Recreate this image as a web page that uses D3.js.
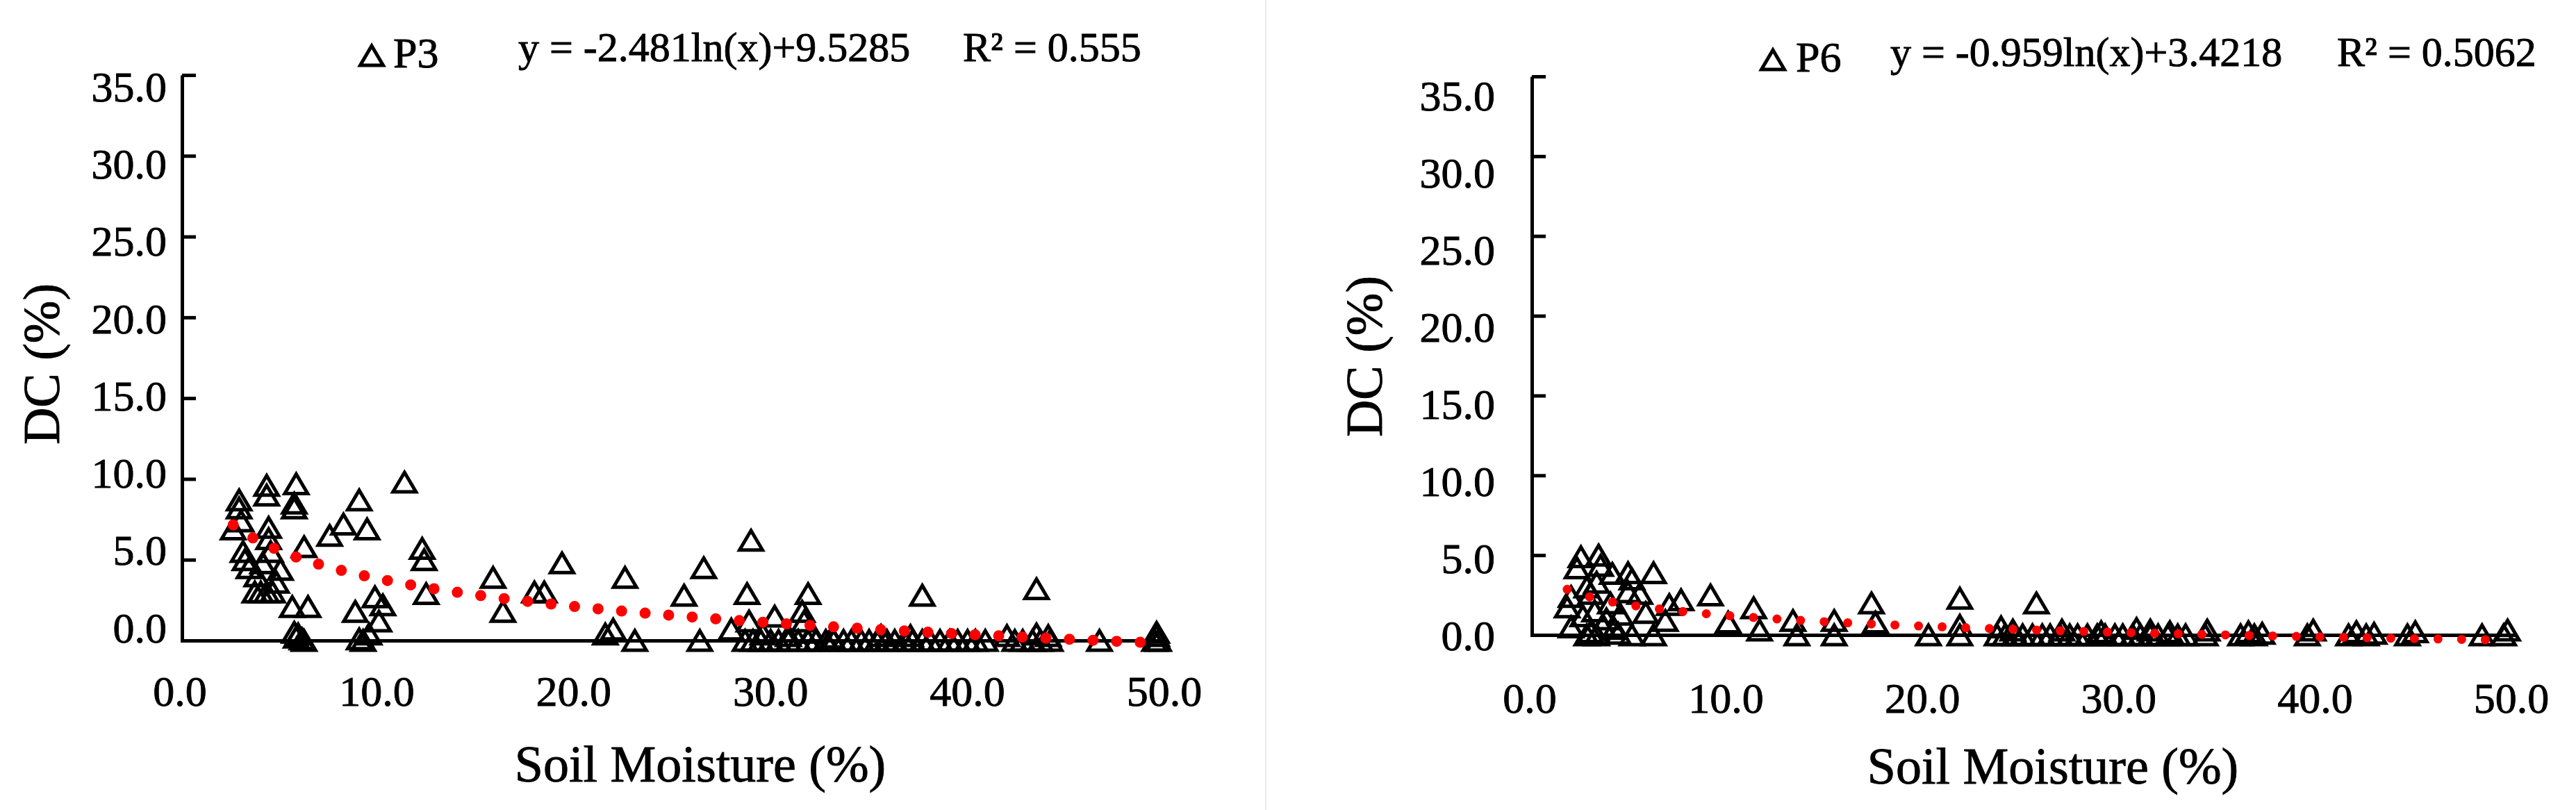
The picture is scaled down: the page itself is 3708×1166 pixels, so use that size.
<!DOCTYPE html>
<html>
<head>
<meta charset="utf-8">
<script src="https://cdn.jsdelivr.net/npm/d3@7"></script>
<style>
  html, body { margin: 0; padding: 0; background: #fff; }
  svg { display: block; }
</style>
</head>
<body>
<svg id="chart"></svg>
<script>
const W = 3708, H = 1166;
const FONT = "Liberation Serif, Times New Roman, serif";

// --- Data ---
const xTicks = [0, 10, 20, 30, 40, 50];
const yTicks = [0, 5, 10, 15, 20, 25, 30, 35];

// P3: [soil moisture %, DC %]
const p3Points = [
  [2.6, 6.9], [2.9, 8.7], [2.9, 8.2], [3.1, 5.5], [3.4, 4.5], [3.2, 5.0], [3.0, 7.4],
  [4.3, 9.6], [4.3, 9.0], [4.4, 7.0], [4.4, 6.3], [3.7, 3.0], [4.0, 3.0], [4.3, 3.0],
  [4.6, 3.0], [3.8, 4.0], [4.1, 4.8], [4.5, 5.5], [5.0, 4.4], [4.8, 3.6],
  [5.8, 9.7], [5.7, 8.5], [5.7, 8.2], [6.2, 5.8], [5.6, 2.1], [6.4, 2.1],
  [5.8, 0.2], [6.1, 0.1], [5.9, 0.4], [5.7, 0.5], [6.2, 0.0],
  [7.5, 6.5], [8.2, 7.2], [9.0, 8.7], [9.4, 6.9], [8.8, 1.8], [9.8, 2.7], [10.2, 2.2],
  [10.0, 1.2], [9.0, 0.1], [9.5, 0.4], [9.2, 0.0],
  [11.3, 9.8], [12.2, 5.7], [12.3, 5.0], [12.4, 2.9], [15.8, 3.9], [16.3, 1.8],
  [17.9, 3.0], [18.4, 3.0], [19.3, 4.8], [22.5, 3.9], [21.9, 0.7], [21.5, 0.4], [23.0, 0.0],
  [25.5, 2.8], [26.5, 4.5], [26.3, 0.0], [28.9, 6.2], [28.7, 2.9], [28.8, 1.2], [27.9, 0.7],
  [30.1, 1.5], [31.8, 2.9], [31.6, 1.2], [31.5, 1.8],
  [28.6, 0.0], [29.0, 0.0], [29.4, 0.0], [29.9, 0.0], [30.3, 0.0], [30.8, 0.0], [31.3, 0.0],
  [31.8, 0.0], [32.2, 0.0], [32.7, 0.0], [33.1, 0.0], [33.6, 0.0], [34.0, 0.0], [34.5, 0.0],
  [30.8, 0.3], [32.0, 0.5], [33.0, 0.2], [29.5, 0.4],
  [34.9, 0.0], [35.3, 0.0], [35.8, 0.0], [36.2, 0.0], [36.7, 0.0], [37.1, 0.0], [37.6, 0.0],
  [38.0, 0.0], [38.5, 0.0], [39.0, 0.0], [39.4, 0.0], [39.9, 0.0], [40.3, 0.0], [40.8, 0.0],
  [42.3, 0.0], [42.7, 0.0], [43.2, 0.0], [43.6, 0.0], [44.1, 0.0],
  [41.9, 0.3], [43.4, 0.4], [44.0, 0.3], [35.5, 0.3], [37.0, 0.3],
  [37.6, 2.8], [43.4, 3.2],
  [46.6, 0.0], [49.4, 0.0], [49.6, 0.0], [49.5, 0.3], [49.5, 0.5]
];

// P6: [soil moisture %, DC %]
const p6Points = [
  [2.5, 4.9], [3.4, 5.0], [2.3, 4.2], [3.5, 4.35], [4.1, 3.85], [4.9, 3.9], [5.1, 3.5],
  [6.2, 3.9], [5.5, 2.6], [4.9, 2.7], [1.8, 1.75], [2.0, 2.4], [3.0, 2.6], [7.0, 1.9],
  [7.6, 2.2], [9.1, 2.5], [6.8, 0.9], [5.1, 0.0], [6.2, 0.0], [10.0, 0.8], [11.3, 1.7],
  [11.6, 0.3], [13.3, 0.9], [13.5, 0.0], [15.4, 0.9], [15.4, 0.0], [2.0, 0.5], [3.0, 0.2],
  [4.2, 0.4], [2.6, 1.2], [3.2, 1.5], [3.8, 1.0], [4.5, 1.3], [2.8, 0.0], [3.3, 0.0],
  [3.6, 0.6], [4.4, 0.1], [5.8, 1.4], [4.0, 2.0], [3.3, 3.3], [2.8, 3.0],
  [17.3, 2.0], [17.5, 0.8], [21.8, 2.3], [21.8, 0.6], [21.8, 0.0], [20.2, 0.0],
  [25.7, 2.0], [23.9, 0.5],
  [23.7, 0.0], [24.1, 0.0], [24.6, 0.0], [25.0, 0.0], [25.5, 0.0], [26.0, 0.0], [26.4, 0.0],
  [26.9, 0.0], [27.4, 0.0], [27.8, 0.0], [28.3, 0.0], [28.8, 0.0], [29.2, 0.0], [29.7, 0.0],
  [30.1, 0.0], [30.6, 0.0], [31.0, 0.0], [31.5, 0.0], [31.9, 0.0], [32.4, 0.0], [32.9, 0.0],
  [33.3, 0.0],
  [24.5, 0.3], [27.0, 0.3], [29.0, 0.2], [30.8, 0.4], [31.5, 0.3], [32.5, 0.2],
  [34.3, 0.0], [34.4, 0.3], [36.1, 0.0], [36.5, 0.2], [36.8, 0.0], [37.2, 0.1],
  [39.5, 0.0], [39.8, 0.3], [41.6, 0.0], [42.0, 0.2], [42.5, 0.0], [42.9, 0.1],
  [44.6, 0.0], [45.0, 0.2], [48.4, 0.0], [49.5, 0.0], [49.7, 0.3]
];

// log trendline coefficients: y = a ln(x) + b
const p3Fit = { a: -2.481, b: 9.5285 };
const p6Fit = { a: -0.959, b: 3.4218 };

const p3Text = { legend: "P3", equation: "y = -2.481ln(x)+9.5285", r2: "R\u00b2 = 0.555" };
const p6Text = { legend: "P6", equation: "y = -0.959ln(x)+3.4218", r2: "R\u00b2 = 0.5062" };

const xTitle = "Soil Moisture (%)";
const yTitle = "DC (%)";

// --- Svg ---
const svg = d3.select("#chart")
  .attr("width", W)
  .attr("height", H)
  .attr("font-family", FONT);

// faint seam between the two pasted charts
svg.append("line")
  .attr("x1", 1822).attr("x2", 1822).attr("y1", 0).attr("y2", H)
  .attr("stroke", "#ececec").attr("stroke-width", 2);

const fmt = d3.format(".1f");
const triPath = "M0,-14L16.5,14L-16.5,14Z";

// slightly heavy text, the source is a blurry scan
function label(sel, size) {
  return sel.attr("font-family", FONT)
    .attr("font-size", size)
    .attr("fill", "#000")
    .attr("stroke", "#000")
    .attr("stroke-width", 0.9);
}

function buildPanel(cfg) {
  const g = svg.append("g");
  const x = d3.scaleLinear().domain([0, 50]).range(cfg.xRange);
  const y = d3.scaleLinear().domain([0, 35]).range(cfg.yRange);
  const yLab = d3.scaleLinear().domain([0, 35]).range(cfg.yLabRange);

  // y axis with inward ticks
  const yAxis = g.append("g")
    .attr("transform", `translate(${x(0)},0)`)
    .call(d3.axisRight(y).tickValues(yTicks).tickSize(20).tickSizeOuter(0).tickFormat(""));
  yAxis.selectAll("path, line").attr("stroke", "#000").attr("stroke-width", 5);

  // x axis line, no ticks
  const xAxis = g.append("g")
    .attr("transform", `translate(0,${y(0)})`)
    .call(d3.axisBottom(x).tickValues(xTicks).tickSize(0).tickSizeOuter(0).tickFormat(""));
  xAxis.select("path").attr("stroke", "#000").attr("stroke-width", 5).attr("stroke-linecap", "square");
  xAxis.selectAll("line").remove();

  // tick labels
  g.selectAll(".ylab")
    .data(yTicks)
    .join("text")
    .call(label, 62)
    .attr("x", cfg.yLabRight)
    .attr("y", d => yLab(d))
    .attr("dy", "0.35em")
    .attr("text-anchor", "end")
    .text(fmt);

  g.selectAll(".xlab")
    .data(xTicks)
    .join("text")
    .call(label, 62)
    .attr("x", d => x(d) - 3)
    .attr("y", cfg.xLabY)
    .attr("dy", "0.35em")
    .attr("text-anchor", "middle")
    .text(fmt);

  // axis titles
  g.append("text")
    .call(label, 74)
    .attr("transform", `translate(${cfg.yTitle[0]},${cfg.yTitle[1]}) rotate(-90)`)
    .attr("dy", "0.35em")
    .attr("text-anchor", "middle")
    .text(yTitle);

  g.append("text")
    .call(label, 74)
    .attr("x", cfg.xTitle[0])
    .attr("y", cfg.xTitle[1])
    .attr("text-anchor", "middle")
    .text(xTitle);

  // points
  g.selectAll(".pt")
    .data(cfg.points)
    .join("path")
    .attr("transform", d => `translate(${x(d[0])},${y(d[1])})`)
    .attr("d", triPath)
    .attr("fill", "none")
    .attr("stroke", "#000")
    .attr("stroke-width", 5)
    .attr("stroke-linejoin", "miter");

  // trendline, round dots
  const [x0, x1] = d3.extent(cfg.points, d => d[0]);
  const samples = d3.range(x0, x1 + 0.001, 0.05);
  const line = d3.line()
    .x(d => x(d))
    .y(d => y(cfg.fit.a * Math.log(d) + cfg.fit.b));
  g.append("path")
    .datum(samples)
    .attr("d", line)
    .attr("fill", "none")
    .attr("stroke", "#ff0000")
    .attr("stroke-width", cfg.dot)
    .attr("stroke-linecap", "round")
    .attr("stroke-dasharray", "0 34");

  // legend + equation
  g.append("path")
    .attr("transform", `translate(${cfg.legendTri[0]},${cfg.legendTri[1]})`)
    .attr("d", triPath)
    .attr("fill", "none")
    .attr("stroke", "#000")
    .attr("stroke-width", 5);

  g.append("text")
    .call(label, 62)
    .attr("x", cfg.legendX).attr("y", cfg.legendY)
    .text(cfg.text.legend);

  g.append("text")
    .call(label, 60)
    .attr("x", cfg.eqX).attr("y", cfg.eqY)
    .text(cfg.text.equation);

  g.append("text")
    .call(label, 60)
    .attr("x", cfg.r2X).attr("y", cfg.eqY)
    .text(cfg.text.r2);
}

const panels = [
  {
    points: p3Points, fit: p3Fit, text: p3Text, dot: 16,
    xRange: [262, 1679], yRange: [922, 108], yLabRange: [903, 124],
    yLabRight: 240, xLabY: 994, yTitle: [59, 524], xTitle: [1008, 1125],
    legendTri: [535, 80], legendX: 566, legendY: 97, eqX: 746, eqY: 88, r2X: 1386
  },
  {
    points: p6Points, fit: p6Fit, text: p6Text, dot: 13,
    xRange: [2205, 3618], yRange: [914, 110], yLabRange: [914, 137],
    yLabRight: 2152, xLabY: 1004, yTitle: [1963, 513], xTitle: [2955, 1128],
    legendTri: [2552, 86], legendX: 2585, legendY: 103, eqX: 2721, eqY: 95, r2X: 3364
  }
];

panels.forEach(buildPanel);
</script>
</body>
</html>
